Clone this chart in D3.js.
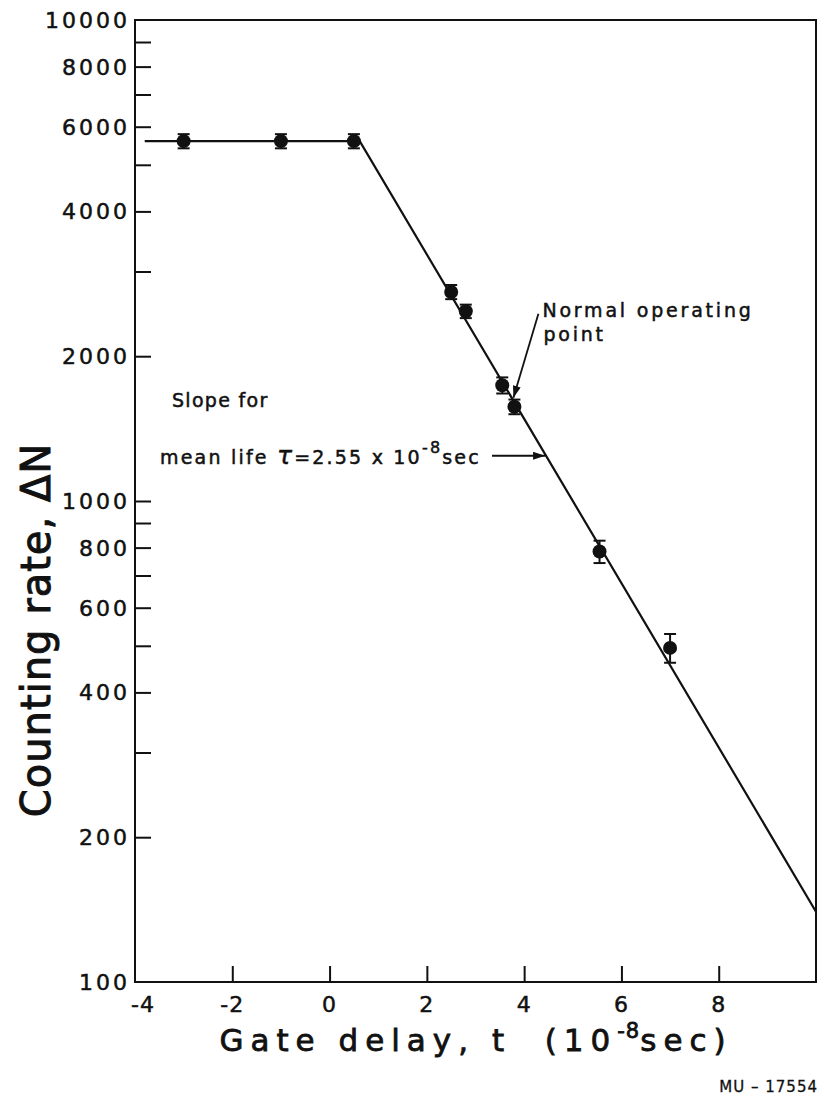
<!DOCTYPE html>
<html>
<head>
<meta charset="utf-8">
<script src="https://cdn.jsdelivr.net/npm/d3@7/dist/d3.min.js"></script>
<style>
  html, body { margin: 0; padding: 0; background: #fff; }
  svg { display: block; }
  text { font-family: "DejaVu Sans", sans-serif; fill: #111; stroke: #111; stroke-width: 0.5px; white-space: pre; }
</style>
</head>
<body>
<svg id="chart" width="824" height="1102"></svg>
<script>
// Measured counting rate vs. gate delay
const delay   = [-3, -1, 0.5, 2.5, 2.8, 3.55, 3.8, 5.55, 7.0];
const rate    = [5600, 5600, 5600, 2720, 2480, 1740, 1570, 785, 495];
const rateErr = [190, 190, 190, 92, 80, 67, 55, 42, 34];

// Fitted curve: plateau then exponential decay (straight on log axis)
const fitT = [-3.8, 0.62, 10];
const fitN = [5600, 5600, 140];

// Axis ticks
const xTicks = [-4, -2, 0, 2, 4, 6, 8];
const yLabeled = [100, 200, 400, 600, 800, 1000, 2000, 4000, 6000, 8000, 10000];
const yMinor = [300, 500, 700, 900, 3000, 5000, 7000, 9000];

const operatingIndex = 6;   // normal operating point
const slopeArrowT = 4.45;   // where the slope note points on the fit line

const svg = d3.select("#chart");
const x = d3.scaleLinear().domain([-4, 10]).range([135, 816]);
const y = d3.scaleLog().domain([100, 10000]).range([982, 20]);

const ink = "#111";

// arrowhead marker
svg.append("defs").append("marker")
  .attr("id", "head")
  .attr("viewBox", "0 0 12 8")
  .attr("refX", 12).attr("refY", 4)
  .attr("markerWidth", 13).attr("markerHeight", 8)
  .attr("markerUnits", "userSpaceOnUse")
  .attr("orient", "auto")
  .append("path").attr("d", "M0,0 L12,4 L0,8 Z").attr("fill", ink);

// frame
const [x0, x1] = x.range();
const [yb, yt] = y.range();
svg.append("rect")
  .attr("x", x0).attr("y", yt)
  .attr("width", x1 - x0).attr("height", yb - yt)
  .attr("fill", "none").attr("stroke", ink).attr("stroke-width", 2);

// y ticks (inward)
const yAxis = d3.axisRight(y)
  .tickValues(yLabeled.concat(yMinor).filter(v => v > 100 && v < 10000))
  .tickSize(16).tickFormat("");
svg.append("g").attr("transform", `translate(${x0},0)`).call(yAxis)
  .call(g => g.select(".domain").remove())
  .call(g => g.selectAll("line").attr("stroke", ink).attr("stroke-width", 2));

// y tick labels
svg.append("g").selectAll("text").data(yLabeled).join("text")
  .attr("x", x0 - 5)
  .attr("y", d => y(d) + 8)
  .attr("text-anchor", "end")
  .attr("font-size", 22)
  .attr("letter-spacing", 3)
  .text(d => d);

// x ticks (inward)
const xAxis = d3.axisTop(x)
  .tickValues(xTicks.filter(v => v > -4))
  .tickSize(16).tickFormat("");
svg.append("g").attr("transform", `translate(0,${yb})`).call(xAxis)
  .call(g => g.select(".domain").remove())
  .call(g => g.selectAll("line").attr("stroke", ink).attr("stroke-width", 2));

// x tick labels
svg.append("g").selectAll("text").data(xTicks).join("text")
  .attr("x", d => x(d) + (d === -4 ? 8 : 0))
  .attr("y", yb + 30)
  .attr("text-anchor", "middle")
  .attr("font-size", 22)
  .attr("letter-spacing", 1)
  .text(d => d < 0 ? "-" + Math.abs(d) : d);

// fitted line
const fitPts = fitT.map((t, i) => [t, fitN[i]]);
svg.append("path")
  .datum(fitPts)
  .attr("d", d3.line().x(d => x(d[0])).y(d => y(d[1])))
  .attr("fill", "none").attr("stroke", ink).attr("stroke-width", 2.2);

// data points with error bars
const pts = delay.map((t, i) => ({ t, n: rate[i], e: rateErr[i] }));
const gp = svg.append("g");
gp.selectAll("line.err").data(pts).join("line")
  .attr("x1", d => x(d.t)).attr("x2", d => x(d.t))
  .attr("y1", d => y(d.n + d.e)).attr("y2", d => y(d.n - d.e))
  .attr("stroke", ink).attr("stroke-width", 2);
[1, -1].forEach(s => {
  gp.selectAll(null).data(pts).join("line")
    .attr("x1", d => x(d.t) - 6).attr("x2", d => x(d.t) + 6)
    .attr("y1", d => y(d.n + s * d.e)).attr("y2", d => y(d.n + s * d.e))
    .attr("stroke", ink).attr("stroke-width", 2);
});
gp.selectAll("circle").data(pts).join("circle")
  .attr("cx", d => x(d.t)).attr("cy", d => y(d.n))
  .attr("r", 7).attr("fill", ink);

// annotation: normal operating point
const op = pts[operatingIndex];
const tipX = x(op.t) - 1, tipY = y(op.n) - 9;
svg.append("line")
  .attr("x1", tipX + 25).attr("y1", tipY - 84)
  .attr("x2", tipX).attr("y2", tipY)
  .attr("stroke", ink).attr("stroke-width", 1.8)
  .attr("marker-end", "url(#head)");
svg.append("text")
  .attr("x", tipX + 29).attr("y", tipY - 81)
  .attr("font-size", 19).attr("letter-spacing", 2.8)
  .text("Normal operating");
svg.append("text")
  .attr("x", tipX + 30).attr("y", tipY - 57)
  .attr("font-size", 19).attr("letter-spacing", 2.8)
  .text("point");

// annotation: slope note with arrow to the fit line
const lg = d3.scaleLinear().domain([fitT[1], fitT[2]])
  .range([Math.log10(fitN[1]), Math.log10(fitN[2])]);
const sx = x(slopeArrowT), sy = y(Math.pow(10, lg(slopeArrowT)));
svg.append("line")
  .attr("x1", sx - 54).attr("y1", sy)
  .attr("x2", sx - 1).attr("y2", sy)
  .attr("stroke", ink).attr("stroke-width", 1.8)
  .attr("marker-end", "url(#head)");
svg.append("text")
  .attr("x", 172).attr("y", sy - 49)
  .attr("font-size", 19).attr("letter-spacing", 1.3)
  .text("Slope for");
const ml = svg.append("text")
  .attr("x", 160).attr("y", sy + 8)
  .attr("font-size", 19).attr("letter-spacing", 2.2);
ml.append("tspan").text("mean life ");
ml.append("tspan").attr("font-style", "italic").attr("font-size", 25).text("τ");
ml.append("tspan").text("=2.55 x 10");
ml.append("tspan").attr("font-size", 16).attr("dy", -11).text("-8");
ml.append("tspan").attr("dy", 11).text("sec");

// axis titles
svg.append("text")
  .attr("transform", "translate(50,630) rotate(-90)")
  .attr("text-anchor", "middle")
  .attr("font-size", 40).attr("letter-spacing", 1)
  .style("stroke-width", "1px")
  .text("Counting rate, ΔN");

const xt = svg.append("text")
  .attr("x", 476).attr("y", 1051)
  .attr("text-anchor", "middle")
  .attr("font-size", 31).attr("letter-spacing", 7)
  .style("stroke-width", "0.8px");
xt.append("tspan").text("Gate delay, t  (10");
xt.append("tspan").attr("font-size", 21).attr("dy", -13).attr("letter-spacing", 1).text("-8");
xt.append("tspan").attr("dy", 13).text("sec)");

svg.append("text")
  .attr("x", 818).attr("y", 1092)
  .attr("text-anchor", "end")
  .attr("font-size", 15).attr("letter-spacing", 1)
  .style("stroke-width", "0.3px")
  .text("MU – 17554");
</script>
</body>
</html>
